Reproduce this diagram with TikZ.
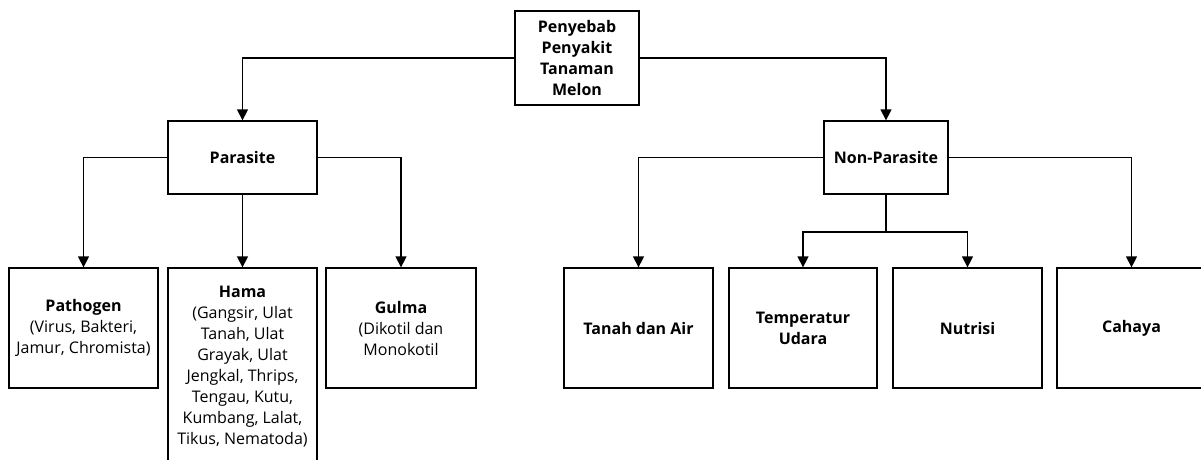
\documentclass[tikz,border=0pt]{standalone}
\usepackage{fontspec}
\setmainfont{Open Sans}
\usetikzlibrary{arrows.meta}
\tikzset{
  box/.style={rectangle, draw, line width=1.3pt, align=center, inner sep=2pt,
    font=\fontsize{16}{21}\selectfont},
  link/.style={line width=1.3pt},
}
\newcommand{\CauseBox}[4]{%
  node (#1) [box, minimum width=#2, minimum height=#3] {#4};
}

\begin{document}
\begin{tikzpicture}[x=1pt, y=-1pt]
    \useasboundingbox (0,0) rectangle (1201,459);

    \path (577,58) \CauseBox{root}{124pt}{94pt}
      {\textbf{Penyebab}\\\textbf{Penyakit}\\\textbf{Tanaman}\\\textbf{Melon}}

    \path (242.5,157.5) \CauseBox{parasite}{149pt}{73pt}{\textbf{Parasite}}
    \path (886,157.5) \CauseBox{nonparasite}{124pt}{73pt}{\textbf{Non-Parasite}}

    \path (83.5,328) \CauseBox{pathogen}{149pt}{120pt}
      {\textbf{Pathogen}\\(Virus, Bakteri,\\Jamur, Chromista)}
    \path (242.5,366.5) \CauseBox{hama}{149pt}{197pt}
      {\textbf{Hama}\\(Gangsir, Ulat\\Tanah, Ulat\\Grayak, Ulat\\Jengkal, Thrips,\\Tengau, Kutu,\\Kumbang, Lalat,\\Tikus, Nematoda)}
    \path (401,328) \CauseBox{gulma}{150pt}{120pt}
      {\textbf{Gulma}\\(Dikotil dan\\Monokotil}

    \path (638.5,328) \CauseBox{tanah}{149pt}{120pt}{\textbf{Tanah dan Air}}
    \path (803,328) \CauseBox{temperatur}{148pt}{120pt}{\textbf{Temperatur}\\\textbf{Udara}}
    \path (967.5,328) \CauseBox{nutrisi}{149pt}{120pt}{\textbf{Nutrisi}}
    \path (1131.5,328) \CauseBox{cahaya}{149pt}{120pt}{\textbf{Cahaya}}

    \coordinate (split) at (886,232);

    \draw[link, ->, > = {Triangle[width=11pt,length=11pt]}] (root.west) -| (parasite.north);
    \draw[link, ->, > = {Triangle[width=11pt,length=11pt]}] (root.east) -| (nonparasite.north);

    \draw[link, ->, > = {Triangle[width=11pt,length=11pt]}] (parasite.west) -| (pathogen.north);
    \draw[link, ->, > = {Triangle[width=11pt,length=11pt]}] (parasite.south) -- (hama.north);
    \draw[link, ->, > = {Triangle[width=11pt,length=11pt]}] (parasite.east) -| (gulma.north);

    \draw[link, ->, > = {Triangle[width=11pt,length=11pt]}] (nonparasite.west) -| (tanah.north);
    \draw[link, ->, > = {Triangle[width=11pt,length=11pt]}] (nonparasite.east) -| (cahaya.north);
    \draw[link] (nonparasite.south) -- (split);
    \draw[link, ->, > = {Triangle[width=11pt,length=11pt]}] (split) -| (temperatur.north);
    \draw[link, ->, > = {Triangle[width=11pt,length=11pt]}] (split) -| (nutrisi.north);
  \end{tikzpicture}
\end{document}
